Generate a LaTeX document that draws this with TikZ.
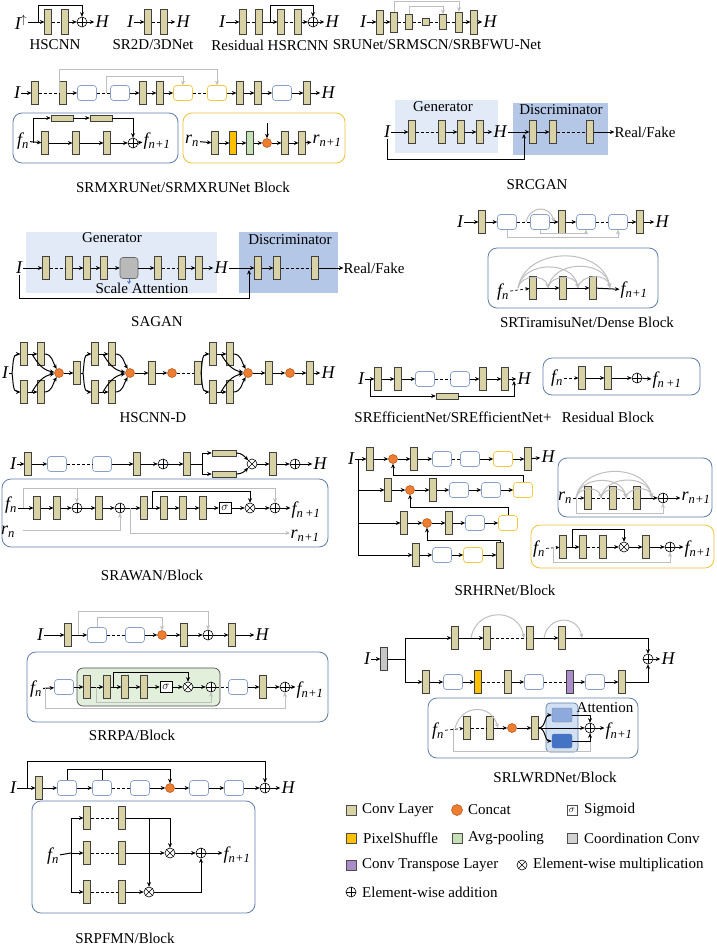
\documentclass[tikz,border=0pt]{standalone}
\usepackage{fontspec}
\setmainfont{Liberation Serif}
\usetikzlibrary{arrows.meta}
\definecolor{convc}{RGB}{216,210,165}
\definecolor{catc}{RGB}{237,125,49}
\definecolor{catd}{RGB}{180,80,20}
\definecolor{blkc}{RGB}{135,160,200}
\definecolor{yelc}{RGB}{244,200,66}
\definecolor{bboxc}{RGB}{95,125,170}
\definecolor{ybc}{RGB}{240,195,60}
\definecolor{grayc}{RGB}{190,190,190}
\definecolor{psc}{RGB}{255,192,0}
\definecolor{avgc}{RGB}{197,224,180}
\definecolor{purc}{RGB}{170,140,200}
\definecolor{genc}{RGB}{225,234,246}
\definecolor{disc}{RGB}{180,199,231}
\definecolor{gbx}{RGB}{226,239,218}
\definecolor{attc}{RGB}{210,224,243}
\definecolor{uac}{RGB}{142,169,219}
\definecolor{lac}{RGB}{68,114,196}
\newcommand{\vsub}[2]{\textit{#1}\textsubscript{#2}}
\newcommand{\hsblk}[2]{%
\begin{scope}[xshift=#2pt]
\coordinate (#1s) at (0,373);
\coordinate (#1m1) at (20,354);
\coordinate (#1m2) at (20,392);
\node[conv] (#1t1) at (12,354) {};
\node[conv] (#1t2) at (29,354) {};
\node[conv] (#1b1) at (12,392) {};
\node[conv] (#1b2) at (29,392) {};
\node[cat] (#1c) at (47,373) {};
\draw[ar] (#1s) to[out=80,in=180] (#1t1.west);
\draw[ar] (#1s) to[out=-80,in=180] (#1b1.west);
\draw[ar] (#1t1) -- (#1t2);
\draw[ar] (#1b1) -- (#1b2);
\draw[ar] (#1t2.east) to[out=0,in=120] (#1c);
\draw[ar] (#1b2.east) to[out=0,in=-120] (#1c);
\draw[ar] (#1m1) to[out=-60,in=170] (#1c);
\draw[ar] (#1m2) to[out=60,in=-170] (#1c);
\end{scope}}
\begin{document}
\begin{tikzpicture}[x=1pt,y=-1pt,
conv/.style={draw=black!75, fill=convc, line width=0.6pt, minimum width=6.5pt, minimum height=23pt, inner sep=0pt},
hconv/.style={conv, minimum width=22pt, minimum height=6pt},
blk/.style={draw=blkc, fill=white, line width=0.7pt, rounded corners=3pt, minimum width=19pt, minimum height=15pt, inner sep=0pt},
yblk/.style={blk, draw=yelc},
cat/.style={circle, draw=catd, fill=catc, line width=0.5pt, minimum size=9pt, inner sep=0pt},
opadd/.style={circle, draw, line width=0.6pt, minimum size=10pt, inner sep=0pt, fill=white, path picture={\draw[line width=0.6pt] (path picture bounding box.north) -- (path picture bounding box.south) (path picture bounding box.west) -- (path picture bounding box.east);}},
opmul/.style={circle, draw, line width=0.6pt, minimum size=10pt, inner sep=0pt, fill=white, path picture={\draw[line width=0.6pt] (path picture bounding box.north west) -- (path picture bounding box.south east) (path picture bounding box.south west) -- (path picture bounding box.north east);}},
sig/.style={draw, line width=0.6pt, minimum width=12pt, minimum height=11pt, inner sep=0pt, fill=white, font=\fontsize{12}{12}\selectfont},
ar/.style={-{Stealth[length=4.5pt,width=4pt]}, line width=1pt},
ln/.style={line width=1pt},
gar/.style={ar, draw=grayc},
gln/.style={ln, draw=grayc},
dsh/.style={line width=0.7pt, dash pattern=on 3pt off 2pt},
dar/.style={dsh, -{Stealth[length=4pt,width=3.5pt]}},
bbox/.style={draw=bboxc, line width=0.8pt, rounded corners=9pt},
ybox/.style={draw=ybc, line width=0.8pt, rounded corners=9pt},
txt/.style={font=\fontsize{15}{17}\selectfont, inner sep=0pt},
var/.style={font=\fontsize{18}{20}\selectfont\itshape, inner sep=1pt},
licon/.style={draw=black!70, line width=0.5pt, minimum size=10pt, inner sep=0pt}
]
\useasboundingbox (0,0) rectangle (716,945);
\fill[white] (0,0) rectangle (716,945);

% ---------------- HSCNN
\node[var] (h1I) at (21,22) {I\textsuperscript{$\uparrow$}};
\node[conv,minimum height=25pt] (h1c1) at (48,22) {};
\node[conv,minimum height=25pt] (h1c2) at (65,22) {};
\node[opadd] (h1p) at (82,22) {};
\node[var] (h1H) at (102,22) {H};
\coordinate (h1s) at (38,22);
\draw[ar] (h1I.east) -- (h1c1);
\draw[dsh] (h1c1) -- (h1c2);
\draw[ar] (h1c2) -- (h1p);
\draw[ar] (h1p) -- (h1H);
\draw[ar] (h1s) -- ++(0,-17) -| (h1p.north);
\node[txt] (h1L) at (55,45) {HSCNN};

% ---------------- SR2D/3DNet
\node[var] (h2I) at (130,22) {I};
\node[conv,minimum height=25pt] (h2c1) at (148,22) {};
\node[conv,minimum height=25pt] (h2c2) at (164,22) {};
\node[var] (h2H) at (183,22) {H};
\draw[ar] (h2I) -- (h2c1);
\draw[dsh] (h2c1) -- (h2c2);
\draw[ar] (h2c2) -- (h2H);
\node[txt] (h2L) at (153,45) {SR2D/3DNet};

% ---------------- Residual HSRCNN
\node[var] (h3I) at (222,22) {I};
\node[conv,minimum height=25pt] (h3c1) at (243,22) {};
\node[conv,minimum height=25pt] (h3c2) at (259,22) {};
\node[conv,minimum height=25pt] (h3c3) at (281,22) {};
\node[conv,minimum height=25pt] (h3c4) at (298,22) {};
\node[opadd] (h3p) at (313,22) {};
\node[var] (h3H) at (332,22) {H};
\coordinate (h3s) at (270,22);
\draw[ar] (h3I) -- (h3c1);
\draw[dsh] (h3c1) -- (h3c2);
\draw[ar] (h3c2) -- (h3c3);
\draw[dsh] (h3c3) -- (h3c4);
\draw[ar] (h3c4) -- (h3p);
\draw[ar] (h3p) -- (h3H);
\draw[ar] (h3s) -- ++(0,-17) -| (h3p.north);
\node[txt] (h3L) at (270,45) {Residual HSRCNN};

% ---------------- SRUNet
\node[var] (h4I) at (363,22) {I};
\node[conv,minimum height=24pt] (h4c1) at (380,22) {};
\node[conv,minimum height=20pt] (h4c2) at (394,22) {};
\node[conv,minimum height=15pt] (h4c3) at (409,22) {};
\node[conv,minimum height=7pt] (h4c4) at (426,22) {};
\node[conv,minimum height=15pt] (h4c5) at (443,22) {};
\node[conv,minimum height=20pt] (h4c6) at (459,22) {};
\node[conv,minimum height=24pt] (h4c7) at (474,22) {};
\node[var] (h4H) at (490,22) {H};
\draw[ar] (h4I) -- (h4c1);
\draw[ar] (h4c1) -- (h4c2);
\draw[dsh] (h4c2) -- (h4c3);
\draw[dsh] (h4c3) -- (h4c4);
\draw[dsh] (h4c4) -- (h4c5);
\draw[dsh] (h4c5) -- (h4c6);
\draw[ar] (h4c6) -- (h4c7);
\draw[ar] (h4c7) -- (h4H);
\draw[gar] (h4c2.north) -- ++(0,-10) -| (h4c6.north);
\draw[gar] (h4c3.north) -- ++(0,-7.5) -| (h4c5.north);
\node[txt] (h4L) at (437,45) {SRUNet/SRMSCN/SRBFWU-Net};

% ---------------- SRMXRUNet
\node[var] (m1I) at (17,93) {I};
\node[conv] (m1c1) at (35,93) {};
\node[conv] (m1c2) at (63,93) {};
\node[blk] (m1b1) at (87,93) {};
\node[blk] (m1b2) at (120,93) {};
\node[conv] (m1c3) at (143,93) {};
\node[conv] (m1c4) at (160,93) {};
\node[yblk] (m1y1) at (183,93) {};
\node[yblk] (m1y2) at (217,93) {};
\node[conv] (m1c5) at (240,93) {};
\node[conv] (m1c6) at (258,93) {};
\node[blk] (m1b3) at (282,93) {};
\node[conv] (m1c7) at (307,93) {};
\node[var] (m1H) at (328,93) {H};
\draw[ar] (m1I) -- (m1c1);
\draw[dsh] (m1c1) -- (m1c2);
\draw[ar] (m1c2) -- (m1b1);
\draw[dsh] (m1b1) -- (m1b2);
\draw[ar] (m1b2) -- (m1c3);
\draw[ar] (m1c3) -- (m1c4);
\draw[ar] (m1c4) -- (m1y1);
\draw[dsh] (m1y1) -- (m1y2);
\draw[ar] (m1y2) -- (m1c5);
\draw[ar] (m1c5) -- (m1c6);
\draw[ar] (m1c6) -- (m1b3);
\draw[ar] (m1b3) -- (m1c7);
\draw[ar] (m1c7) -- (m1H);
\coordinate (m1g1) at (59,93);
\coordinate (m1g2) at (106,93);
\draw[gar] (m1g1) -- ++(0,-24) -| (m1y2.north);
\draw[gar] (m1g2) -- ++(0,-17) -| (m1y1.north);
% block 1
\draw[bbox] (13,113) rectangle (178,163);
\node[var] (m1f) at (23,141) {\vsub{f}{\textit{n}}};
\node[conv] (m1d1) at (45,143) {};
\node[conv] (m1d2) at (76,143) {};
\node[conv] (m1d3) at (107,143) {};
\node[opadd] (m1p) at (133,143) {};
\node[var] (m1fo) at (157,141) {\vsub{f}{\textit{n}+1}};
\node[hconv] (m1h1) at (62,118) {};
\node[hconv] (m1h2) at (101,118) {};
\coordinate (m1s) at (33,143);
\draw[ar] (m1f) -- (m1d1);
\draw[ar] (m1d1) -- (m1d2);
\draw[ar] (m1d2) -- (m1d3);
\draw[ar] (m1d3) -- (m1p);
\draw[ar] (m1p) -- (m1fo);
\draw[ar] (m1s) |- (m1h1.west);
\draw[ar] (m1h1) -- (m1h2);
\draw[ar] (m1h2.east) -| (m1p.north);
% block 2
\draw[ybox] (183,113) rectangle (345,163);
\node[var] (m1r) at (192,141) {\vsub{r}{\textit{n}}};
\node[conv] (m1e1) at (215,143) {};
\node[conv,fill=psc] (m1e2) at (233,143) {};
\node[conv,fill=avgc] (m1e3) at (250,143) {};
\node[cat] (m1k) at (267,143) {};
\node[conv] (m1e4) at (285,143) {};
\node[conv] (m1e5) at (302,143) {};
\node[var] (m1ro) at (327,141) {\vsub{r}{\textit{n}+1}};
\coordinate (m1ka) at (267,123);
\draw[ar] (m1r) -- (m1e1);
\draw[ar] (m1e1) -- (m1e2);
\draw[ar] (m1e2) -- (m1e3);
\draw[ar] (m1e3) -- (m1k);
\draw[ar] (m1k) -- (m1e4);
\draw[ar] (m1e4) -- (m1e5);
\draw[ar] (m1e5) -- (m1ro);
\draw[ar] (m1ka) -- (m1k.north);
\node[txt] (m1L) at (183,187) {SRMXRUNet/SRMXRUNet Block};

% ---------------- SRCGAN
\fill[genc] (395,100) rectangle (498,153);
\fill[disc] (513,103) rectangle (608,155);
\node[txt] (cgG) at (443,107) {Generator};
\node[txt] (cgD) at (561,110) {Discriminator};
\node[var] (cgI) at (387,132) {I};
\node[conv] (cg1) at (412,132) {};
\node[conv] (cg2) at (442,132) {};
\node[conv] (cg3) at (461,132) {};
\node[conv] (cg4) at (480,132) {};
\node[var] (cgH) at (500,132) {H};
\node[conv] (cg5) at (533,132) {};
\node[conv] (cg6) at (553,132) {};
\node[conv] (cg7) at (590,132) {};
\node[txt] (cgR) at (645,132) {Real/Fake};
\coordinate (cgk) at (524,159);
\coordinate (cgk2) at (524,134);
\draw[ar] (cgI) -- (cg1);
\draw[dsh] (cg1) -- (cg2);
\draw[ar] (cg2) -- (cg3);
\draw[ar] (cg3) -- (cg4);
\draw[ar] (cg4) -- (cgH);
\draw[ar] (cgH) -- (cg5);
\draw[ar] (cg5) -- (cg6);
\draw[dsh] (cg6) -- (cg7);
\draw[ar] (cg7) -- (cgR);
\draw[ar] (cgI.south) |- (cgk) -- (cgk2);
\node[txt] (cgL) at (537,185) {SRCGAN};

% ---------------- SAGAN
\fill[genc] (26,232) rectangle (217,293);
\fill[disc] (239,232) rectangle (338,293);
\node[txt] (saG) at (112,238) {Generator};
\node[txt] (saD) at (290,240) {Discriminator};
\node[var] (saI) at (19,268) {I};
\node[conv] (sa1) at (46,268) {};
\node[conv] (sa2) at (69,268) {};
\node[conv] (sa3) at (87,268) {};
\node[conv] (sa4) at (104,268) {};
\node[draw=black!60, fill=gray!55, rounded corners=3pt, minimum width=18pt, minimum height=21pt, line width=0.6pt] (sa5) at (129,268) {};
\node[conv] (sa6) at (158,268) {};
\node[conv] (sa7) at (182,268) {};
\node[conv] (sa8) at (199,268) {};
\node[var] (saH) at (221,268) {H};
\node[conv] (sa9) at (258,268) {};
\node[conv] (sa10) at (277,268) {};
\node[conv] (sa11) at (315,268) {};
\node[txt] (saR) at (374,268) {Real/Fake};
\node[txt] (saS) at (142,288) {Scale Attention};
\coordinate (saa) at (129,284);
\coordinate (sak) at (249,298);
\coordinate (sak2) at (249,270);
\draw[ar] (saI) -- (sa1);
\draw[dsh] (sa1) -- (sa2);
\draw[ar] (sa2) -- (sa3);
\draw[ar] (sa3) -- (sa4);
\draw[ar] (sa4) -- (sa5);
\draw[ar] (sa5) -- (sa6);
\draw[dsh] (sa6) -- (sa7);
\draw[ar] (sa7) -- (sa8);
\draw[ar] (sa8) -- (saH);
\draw[ar] (saH) -- (sa9);
\draw[ar] (sa9) -- (sa10);
\draw[dsh] (sa10) -- (sa11);
\draw[ar] (sa11) -- (saR);
\draw[-{Stealth[open,length=3pt,width=4pt]}, draw=lac, line width=1pt] (sa5.south) -- (saa);
\draw[ar] (saI.south) |- (sak) -- (sak2);
\node[txt] (saL) at (157,322) {SAGAN};

% ---------------- SRTiramisuNet
\node[var] (tI) at (460,222) {I};
\node[conv] (tc1) at (482,222) {};
\node[blk] (tb1) at (507,222) {};
\node[blk] (tb2) at (540,222) {};
\node[conv] (tc2) at (562,222) {};
\node[blk] (tb3) at (586,222) {};
\node[blk] (tb4) at (618,222) {};
\node[conv] (tc3) at (640,222) {};
\node[var] (tH) at (662,222) {H};
\draw[ar] (tI) -- (tc1);
\draw[ar] (tc1) -- (tb1);
\draw[dsh] (tb1) -- (tb2);
\draw[ar] (tb2) -- (tc2);
\draw[ar] (tc2) -- (tb3);
\draw[dsh] (tb3) -- (tb4);
\draw[ar] (tb4) -- (tc3);
\draw[ar] (tc3) -- (tH);
\coordinate (tg1) at (526,222);
\coordinate (tg2) at (554,222);
\draw[gar] (tg1) to[out=75,in=105,looseness=1.6] (tg2);
\draw[gar] (tb1.south) -- ++(0,8) -| (tb4.south);
\draw[gar] (tb2.south) -- ++(0,4) -| (tb3.south);
\draw[bbox] (488,248) rectangle (658,308);
\node[var] (tf) at (503,292) {\vsub{f}{\textit{n}}};
\node[conv] (td1) at (533,288) {};
\node[conv] (td2) at (563,288) {};
\node[conv] (td3) at (593,288) {};
\node[var] (tfo) at (634,290) {\vsub{f}{\textit{n}+1}};
\draw[dar] (tf) -- (td1);
\draw[ar] (td1) -- (td2);
\draw[ar] (td2) -- (td3);
\draw[ar] (td3) -- (tfo);
\coordinate (tp0) at (518,288);
\coordinate (tp1) at (548,288);
\coordinate (tp2) at (578,288);
\coordinate (tp3) at (610,288);
\foreach \a/\b in {0/1,0/2,0/3,1/2,1/3,2/3}
  \draw[gar] (tp\a) to[out=80,in=100,looseness=1.2] (tp\b);
\node[txt] (tL) at (587,322) {SRTiramisuNet/Dense Block};

% ---------------- HSCNN-D
\node[var] (dI) at (5,373) {I};
\node[conv] (dx1) at (77,373) {};
\node[conv] (dx2) at (152,373) {};
\node[cat] (dk2) at (172,373) {};
\node[conv] (dx3) at (198,373) {};
\node[conv] (dx4) at (269,373) {};
\node[cat] (dk4) at (290,373) {};
\node[conv] (dx5) at (310,373) {};
\node[var] (dH) at (328,373) {H};
\hsblk{da}{12}
\hsblk{db}{83}
\hsblk{dc}{201}
\draw[ln] (dI.east) -- (das);
\draw[ar] (dac) -- (dx1);
\draw[ln] (dx1) -- (dbs);
\draw[ar] (dbc) -- (dx2);
\draw[ar] (dx2) -- (dk2);
\draw[dsh] (dk2) -- (dx3);
\draw[ln] (dx3) -- (dcs);
\draw[ar] (dcc) -- (dx4);
\draw[ar] (dx4) -- (dk4);
\draw[ar] (dk4) -- (dx5);
\draw[ar] (dx5) -- (dH);
\node[txt] (dL) at (153,418) {HSCNN-D};

% ---------------- SREfficientNet
\node[var] (seI) at (361,379) {I};
\node[conv] (se1) at (378,379) {};
\node[conv] (se2) at (398,379) {};
\node[blk] (se3) at (425,379) {};
\node[blk] (se4) at (460,379) {};
\node[conv] (se5) at (483,379) {};
\node[conv] (se6) at (505,379) {};
\node[var] (seH) at (524,379) {H};
\node[hconv] (seh) at (447,396) {};
\coordinate (ses) at (370,379);
\coordinate (sek) at (514,381);
\draw[ar] (seI) -- (se1);
\draw[ar] (se1) -- (se2);
\draw[ar] (se2) -- (se3);
\draw[dsh] (se3) -- (se4);
\draw[ar] (se4) -- (se5);
\draw[ar] (se5) -- (se6);
\draw[ar] (se6) -- (seH);
\draw[ar] (ses) |- (seh.west);
\draw[ar] (seh.east) -| (sek);
\node[txt] (seL) at (453,417) {SREfficientNet/SREfficientNet+};
\draw[bbox] (543,358) rectangle (700,395);
\node[var] (rbf) at (557,378) {\vsub{f}{\textit{n}}};
\node[conv] (rb1) at (582,378) {};
\node[conv] (rb2) at (608,378) {};
\node[opadd] (rbp) at (637,378) {};
\node[var] (rbfo) at (667,380) {\vsub{f}{\textit{n}\,+1}};
\draw[dar] (rbf) -- (rb1);
\draw[ar] (rb1) -- (rb2);
\draw[ar] (rb2) -- (rbp);
\draw[ar] (rbp) -- (rbfo);
\node[txt] (rbL) at (608,417) {Residual Block};

% ---------------- SRAWAN
\node[var] (awI) at (13,464) {I};
\node[conv] (aw1) at (28,464) {};
\node[blk] (aw2) at (57,464) {};
\node[blk] (aw3) at (102,464) {};
\node[conv] (aw4) at (137,464) {};
\node[opadd] (aw5) at (163,464) {};
\node[conv] (aw6) at (187,464) {};
\node[hconv, minimum width=24pt] (aw7) at (224,453) {};
\node[hconv, minimum width=24pt] (aw8) at (224,474) {};
\node[opmul] (aw9) at (252,464) {};
\node[conv] (aw10) at (273,464) {};
\node[opadd] (aw11) at (295,464) {};
\node[var] (awH) at (320,464) {H};
\coordinate (aws) at (202,464);
\draw[ar] (awI) -- (aw1);
\draw[ar] (aw1) -- (aw2);
\draw[dsh] (aw2) -- (aw3);
\draw[ar] (aw3) -- (aw4);
\draw[ar] (aw4) -- (aw5);
\draw[ar] (aw5) -- (aw6);
\draw[ln] (aw6) -- (aws);
\draw[ar] (aws) |- (aw7.west);
\draw[ar] (aws) |- (aw8.west);
\draw[ar] (aw7.east) to[out=0,in=135] (aw9);
\draw[ar] (aw8.east) to[out=0,in=-135] (aw9);
\draw[ar] (aw9) -- (aw10);
\draw[ar] (aw10) -- (aw11);
\draw[ar] (aw11) -- (awH);
\draw[bbox] (2,479) rectangle (328,547);
\node[var] (awf) at (11,505) {\vsub{f}{\textit{n}}};
\node[conv] (ab1) at (37,508) {};
\node[conv] (ab2) at (57,508) {};
\node[opadd] (ab3) at (77,508) {};
\node[conv] (ab4) at (99,508) {};
\node[opadd] (ab5) at (120,508) {};
\node[conv] (ab6) at (144,508) {};
\node[conv] (ab7) at (164,508) {};
\node[conv] (ab8) at (183,508) {};
\node[conv] (ab9) at (203,508) {};
\node[sig] (ab10) at (225,508) {$\sigma$};
\node[opmul] (ab11) at (250,508) {};
\node[opadd] (ab12) at (275,508) {};
\node[var] (awfo) at (306,510) {\vsub{f}{\textit{n}\,+1}};
\node[var] (awr) at (8,532) {\vsub{r}{\textit{n}}};
\node[var] (awro) at (305,536) {\vsub{r}{\textit{n}+1}};
\coordinate (awk) at (152,508);
\coordinate (awg) at (23,508);
\coordinate (awr1) at (23,530);
\coordinate (awr2) at (130,508);
\coordinate (awr3) at (290,533);
\draw[ar] (awf.east |- ab1) -- (ab1);
\draw[ar] (ab1) -- (ab2);
\draw[ar] (ab2) -- (ab3);
\draw[ar] (ab3) -- (ab4);
\draw[ar] (ab4) -- (ab5);
\draw[ar] (ab5) -- (ab6);
\draw[ar] (ab6) -- (ab7);
\draw[ar] (ab7) -- (ab8);
\draw[ar] (ab8) -- (ab9);
\draw[ar] (ab9) -- (ab10);
\draw[ar] (ab10) -- (ab11);
\draw[ar] (ab11) -- (ab12);
\draw[ar] (ab12) -- (awfo.west |- ab12);
\draw[ar] (awk) -- ++(0,-17) -| (ab11.north);
\draw[gar] (awg) -- ++(0,-20) -| (ab3.north);
\draw[gar] (awg) -- ++(0,-20) -| (ab12.north);
\draw[gar] (awr1) -| (ab5.south);
\draw[gar] (awr2) |- (awr3);
\node[txt] (awL) at (152,575) {SRAWAN/Block};

% ---------------- SRHRNet
\node[var] (hrI) at (351,459) {I};
\coordinate (hrv1) at (358,459);
\coordinate (hrv2) at (358,490);
\coordinate (hrv3) at (358,523);
\coordinate (hrv4) at (358,555);
\node[conv] (r1a) at (370,459) {};
\node[cat] (r1b) at (393,459) {};
\node[conv] (r1c) at (414,459) {};
\node[blk] (r1d) at (442,459) {};
\node[blk] (r1e) at (470,459) {};
\node[yblk] (r1f) at (503,459) {};
\node[conv] (r1g) at (528,459) {};
\node[var] (r1H) at (548,457) {H};
\node[conv] (r2a) at (388,490) {};
\node[cat] (r2b) at (410,490) {};
\node[conv] (r2c) at (433,490) {};
\node[blk] (r2d) at (459,490) {};
\node[blk] (r2e) at (491,490) {};
\node[yblk] (r2f) at (523,490) {};
\node[conv] (r3a) at (404,523) {};
\node[cat] (r3b) at (427,523) {};
\node[conv] (r3c) at (449,523) {};
\node[blk] (r3d) at (475,523) {};
\node[yblk] (r3e) at (508,523) {};
\node[conv] (r4a) at (416,555) {};
\node[blk] (r4b) at (442,555) {};
\node[yblk] (r4c) at (473,555) {};
\node[conv, minimum height=26pt] (r4d) at (500,555) {};
\coordinate (r2u) at (393,475);
\coordinate (r3u) at (410,507);
\coordinate (r4u) at (427,540);
\draw[ln] (hrI.east) -- (hrv1) -- (hrv4);
\draw[ar] (hrv1) -- (r1a);
\draw[ar] (hrv2) -- (r2a);
\draw[ar] (hrv3) -- (r3a);
\draw[ar] (hrv4) -- (r4a);
\draw[ar] (r1a) -- (r1b);
\draw[ar] (r1b) -- (r1c);
\draw[ar] (r1c) -- (r1d);
\draw[dsh] (r1d) -- (r1e);
\draw[ar] (r1e) -- (r1f);
\draw[ar] (r1f) -- (r1g);
\draw[ar] (r1g) -- (r1H);
\draw[ar] (r2a) -- (r2b);
\draw[ar] (r2b) -- (r2c);
\draw[ar] (r2c) -- (r2d);
\draw[ar] (r2d) -- (r2e);
\draw[ar] (r2e) -- (r2f);
\draw[ar] (r3a) -- (r3b);
\draw[ar] (r3b) -- (r3c);
\draw[ar] (r3c) -- (r3d);
\draw[ar] (r3d) -- (r3e);
\draw[ar] (r4a) -- (r4b);
\draw[ar] (r4b) -- (r4c);
\draw[ar] (r4c) -- (r4d);
\draw[ar] (r2f.north) |- (r2u) -- (r1b.south);
\draw[ar] (r3e.north) |- (r3u) -- (r2b.south);
\draw[ar] (r4d.north) |- (r4u) -- (r3b.south);
% blue block
\draw[bbox] (558,458) rectangle (712,517);
\node[var] (qr) at (565,498) {\vsub{r}{\textit{n}}};
\node[conv] (q1) at (588,498) {};
\node[conv] (q2) at (613,498) {};
\node[conv] (q3) at (637,498) {};
\node[opadd] (q4) at (663,498) {};
\node[var] (qro) at (696,498) {\vsub{r}{\textit{n}+1}};
\draw[dar] (qr) -- (q1);
\draw[dsh] (q1) -- (q2);
\draw[dsh] (q2) -- (q3);
\draw[ar] (q3) -- (q4);
\draw[ar] (q4) -- (qro);
\coordinate (qp0) at (576,498);
\coordinate (qp1) at (601,498);
\coordinate (qp2) at (626,498);
\coordinate (qp3) at (652,498);
\foreach \a/\b in {0/1,0/2,0/3,1/2,1/3,2/3}
  \draw[gar] (qp\a) to[out=80,in=100,looseness=1.2] (qp\b);
\draw[gar] (qp0) -- ++(0,15) -| (q4.south);
% yellow block
\draw[ybox] (531,525) rectangle (714,568);
\node[var] (sf) at (539,549) {\vsub{f}{\textit{n}}};
\node[conv] (s1) at (563,547) {};
\node[conv] (s2) at (583,547) {};
\node[conv] (s3) at (603,547) {};
\node[opmul] (s4) at (624,547) {};
\node[conv] (s5) at (646,547) {};
\node[opadd] (s6) at (670,547) {};
\node[var] (sfo) at (698,549) {\vsub{f}{\textit{n}+1}};
\coordinate (sk) at (572,547);
\coordinate (sg) at (553,547);
\draw[dar] (sf) -- (s1);
\draw[ar] (s1) -- (s2);
\draw[dsh] (s2) -- (s3);
\draw[ar] (s3) -- (s4);
\draw[ar] (s4) -- (s5);
\draw[ar] (s5) -- (s6);
\draw[ar] (s6) -- (sfo.west |- s6);
\draw[ar] (sk) -- ++(0,-18) -| (s4.north);
\draw[gar] (sg) -- ++(0,15) -| (s6.south);
\node[txt] (hrL) at (505,590) {SRHRNet/Block};

% ---------------- SRRPA
\node[var] (pI) at (40,635) {I};
\node[conv] (p1) at (68,635) {};
\node[blk] (p2) at (97,635) {};
\node[blk] (p3) at (135,635) {};
\node[cat] (p4) at (162,635) {};
\node[conv] (p5) at (184,635) {};
\node[opadd] (p6) at (208,635) {};
\node[conv] (p7) at (232,635) {};
\node[var] (pH) at (262,635) {H};
\coordinate (pg1) at (78,635);
\draw[ar] (pI) -- (p1);
\draw[ar] (p1) -- (p2);
\draw[dsh] (p2) -- (p3);
\draw[ar] (p3) -- (p4);
\draw[ar] (p4) -- (p5);
\draw[ar] (p5) -- (p6);
\draw[ar] (p6) -- (p7);
\draw[ar] (p7) -- (pH);
\draw[gar] (pg1) -- ++(0,-24) -| (p6.north);
\draw[gar] (p2.north) -- ++(0,-10) -| (p4.north);
\draw[bbox] (27,652) rectangle (328,722);
\draw[draw=black!70, fill=gbx, rounded corners=6pt, line width=0.7pt] (77,668) rectangle (220,706);
\node[var] (pf) at (36,689) {\vsub{f}{\textit{n}}};
\node[blk] (pq1) at (64,687) {};
\node[conv] (pq2) at (87,687) {};
\node[conv] (pq3) at (107,687) {};
\node[conv] (pq4) at (125,687) {};
\node[conv] (pq5) at (144,687) {};
\node[sig] (pq6) at (166,687) {$\sigma$};
\node[opmul] (pq7) at (188,687) {};
\node[opadd] (pq8) at (211,687) {};
\node[blk] (pq9) at (238,687) {};
\node[conv] (pq10) at (263,687) {};
\node[opadd] (pq11) at (285,687) {};
\node[var] (pfo) at (310,690) {\vsub{f}{\textit{n}+1}};
\coordinate (pk) at (113,687);
\coordinate (pga) at (45,687);
\coordinate (pgb) at (96,687);
\draw[ar] (pf) -- (pq1);
\draw[ar] (pq1) -- (pq2);
\draw[ar] (pq2) -- (pq3);
\draw[ar] (pq3) -- (pq4);
\draw[ar] (pq4) -- (pq5);
\draw[ar] (pq5) -- (pq6);
\draw[ar] (pq6) -- (pq7);
\draw[ar] (pq7) -- (pq8);
\draw[dsh] (pq8) -- (pq9);
\draw[ar] (pq9) -- (pq10);
\draw[ar] (pq10) -- (pq11);
\draw[ar] (pq11) -- (pfo.west |- pq11);
\draw[ar] (pk) -- ++(0,-15) -| (pq7.north);
\draw[gar] (pga) -- ++(0,21) -| (pq11.south);
\draw[gar] (pgb) -- ++(0,15) -| (pq8.south);
\node[txt] (pL) at (132,735) {SRRPA/Block};

% ---------------- SRPFMN
\node[var] (uI) at (13,788) {I};
\node[conv] (u1) at (39,788) {};
\node[blk] (u2) at (67,788) {};
\node[blk] (u3) at (102,788) {};
\node[blk] (u4) at (140,788) {};
\node[cat] (u5) at (170,788) {};
\node[blk] (u6) at (199,788) {};
\node[blk] (u7) at (234,788) {};
\node[opadd] (u8) at (265,788) {};
\node[var] (uH) at (288,788) {H};
\coordinate (ug) at (27,788);
\coordinate (ui1) at (67,769);
\coordinate (ui2) at (102,769);
\draw[ar] (uI) -- (u1);
\draw[ar] (u1) -- (u2);
\draw[ar] (u2) -- (u3);
\draw[dsh] (u3) -- (u4);
\draw[ar] (u4) -- (u5);
\draw[ar] (u5) -- (u6);
\draw[ar] (u6) -- (u7);
\draw[ar] (u7) -- (u8);
\draw[ar] (u8) -- (uH);
\draw[ar] (ug) -- ++(0,-27) -| (u8.north);
\draw[ar] (u2.north) -- (ui1) -| (u5.north);
\draw[ln] (u3.north) -- (ui2);
\draw[bbox] (32,801) rectangle (255,913);
\node[var] (vf) at (53,856) {\vsub{f}{\textit{n}}};
\coordinate (vs) at (71,853);
\coordinate (vs1) at (71,818);
\coordinate (vs3) at (71,892);
\node[conv] (v11) at (87,818) {};
\node[conv] (v12) at (122,818) {};
\node[conv] (v21) at (87,853) {};
\node[conv] (v22) at (122,853) {};
\node[conv] (v31) at (87,892) {};
\node[conv] (v32) at (122,892) {};
\node[opmul] (vm1) at (170,853) {};
\node[opmul] (vm2) at (149,892) {};
\node[opadd] (vp) at (201,853) {};
\node[var] (vfo) at (237,855) {\vsub{f}{\textit{n}+1}};
\coordinate (vk) at (149,818);
\draw[ln] (vf) -- (vs);
\draw[ln] (vs1) -- (vs3);
\draw[ar] (vs1) -- (v11);
\draw[ar] (vs) -- (v21);
\draw[ar] (vs3) -- (v31);
\draw[dsh] (v11) -- (v12);
\draw[dsh] (v21) -- (v22);
\draw[dsh] (v31) -- (v32);
\draw[ar] (v12.east) -| (vm1.north);
\draw[ar] (vk) -- (vm2.north);
\draw[ar] (v22) -- (vm1);
\draw[ar] (v32) -- (vm2);
\draw[ar] (vm1) -- (vp);
\draw[ar] (vm2.east) -| (vp.south);
\draw[ar] (vp) -- (vfo.west |- vp);
\node[txt] (uL) at (125,938) {SRPFMN/Block};

% ---------------- SRLWRDNet
\node[var] (wI) at (367,659) {I};
\node[conv, fill=gray!45] (w0) at (384,659) {};
\coordinate (ws) at (405,659);
\node[conv] (w1) at (455,638) {};
\node[conv] (w2) at (487,638) {};
\node[conv] (w3) at (530,638) {};
\node[conv] (w4) at (562,638) {};
\node[conv] (wv1) at (426,682) {};
\node[blk] (wv2) at (453,682) {};
\node[conv, fill=psc] (wv3) at (478,682) {};
\node[conv] (wv4) at (508,682) {};
\node[blk] (wv5) at (534,682) {};
\node[conv, fill=purc] (wv6) at (570,682) {};
\node[blk] (wv7) at (595,682) {};
\node[conv] (wv8) at (622,682) {};
\node[opadd] (wp) at (648,659) {};
\node[var] (wH) at (668,659) {H};
\draw[ar] (wI) -- (w0);
\draw[ln] (w0) -- (ws);
\draw[ar] (ws) |- (w1.west);
\draw[ar] (ws) |- (wv1.west);
\draw[ar] (w1) -- (w2);
\draw[dsh] (w2) -- (w3);
\draw[ar] (w3) -- (w4);
\draw[ar] (w4.east) -| (wp.north);
\draw[ar] (wv1) -- (wv2);
\draw[ar] (wv2) -- (wv3);
\draw[dsh] (wv3) -- (wv4);
\draw[ar] (wv4) -- (wv5);
\draw[dsh] (wv5) -- (wv6);
\draw[ar] (wv6) -- (wv7);
\draw[ar] (wv7) -- (wv8);
\draw[ar] (wv8.east) -| (wp.south);
\draw[ar] (wp) -- (wH);
\coordinate (wa1) at (471,638);
\coordinate (wa2) at (524,638);
\coordinate (wa3) at (544,638);
\coordinate (wa4) at (582,638);
\draw[gar] (wa1) to[out=80,in=100,looseness=1.5] (wa2);
\draw[gar] (wa3) to[out=80,in=100,looseness=1.6] (wa4);
\draw[bbox] (428,698) rectangle (638,758);
\draw[draw=bboxc, fill=attc, rounded corners=4pt, line width=0.7pt] (546,703) rectangle (578,752);
\node[var] (xf) at (438,731) {\vsub{f}{\textit{n}}};
\node[conv] (x1) at (467,728) {};
\node[conv] (x2) at (490,728) {};
\node[cat] (x3) at (512,728) {};
\node[conv] (x4) at (535,728) {};
\node[draw=bboxc, fill=uac, rounded corners=2pt, minimum width=20pt, minimum height=14pt, inner sep=0pt] (xua) at (562,715) {};
\node[draw=bboxc, fill=lac, rounded corners=2pt, minimum width=20pt, minimum height=14pt, inner sep=0pt] (xla) at (562,741) {};
\node[opadd] (xp) at (590,728) {};
\node[txt] (xat) at (605,708) {Attention};
\node[var] (xfo) at (619,731) {\vsub{f}{\textit{n}+1}};
\coordinate (xg1) at (455,728);
\coordinate (xg2) at (498,728);
\coordinate (xg3) at (453,728);
\draw[gar] (xg1) to[out=75,in=105,looseness=1.5] (xg2);
\draw[gln] (xg3) -- ++(0,23) -| (xp.south);
\draw[dar] (xf) -- (x1);
\draw[dsh] (x1) -- (x2);
\draw[ar] (x2) -- (x3);
\draw[ar] (x3) -- (x4);
\draw[ar] (x4.east) to[out=0,in=180] (xua.west);
\draw[ar] (x4.east) to[out=0,in=180] (xla.west);
\draw[ar] (x4) -- (xp);
\draw[ar] (xua.east) -| (xp.north);
\draw[ar] (xla.east) -| (xp.south);
\draw[ar] (xp) -- (xfo.west |- xp);
\node[txt] (wL) at (555,777) {SRLWRDNet/Block};

% ---------------- Legend
\node[licon, fill=convc] (lg1) at (351,810) {};
\node[txt, anchor=west] (lg1t) at (362,810) {Conv Layer};
\node[cat, minimum size=11pt] (lg2) at (457,810) {};
\node[txt, anchor=west] (lg2t) at (468,810) {Concat};
\node[licon, font=\fontsize{10}{10}\selectfont] (lg3) at (572,810) {$\sigma$};
\node[txt, anchor=west] (lg3t) at (584,810) {Sigmoid};
\node[licon, fill=psc] (lg4) at (351,838) {};
\node[txt, anchor=west] (lg4t) at (363,838) {PixelShuffle};
\node[licon, fill=avgc] (lg5) at (457,838) {};
\node[txt, anchor=west] (lg5t) at (468,838) {Avg-pooling};
\node[licon, fill=gray!35] (lg6) at (572,838) {};
\node[txt, anchor=west] (lg6t) at (584,838) {Coordination Conv};
\node[licon, fill=purc] (lg7) at (351,865) {};
\node[txt, anchor=west] (lg7t) at (362,865) {Conv Transpose Layer};
\node[opmul] (lg8) at (522,865) {};
\node[txt, anchor=west] (lg8t) at (533,865) {Element-wise multiplication};
\node[opadd] (lg9) at (351,892) {};
\node[txt, anchor=west] (lg9t) at (362,892) {Element-wise addition};
\end{tikzpicture}
\end{document}
